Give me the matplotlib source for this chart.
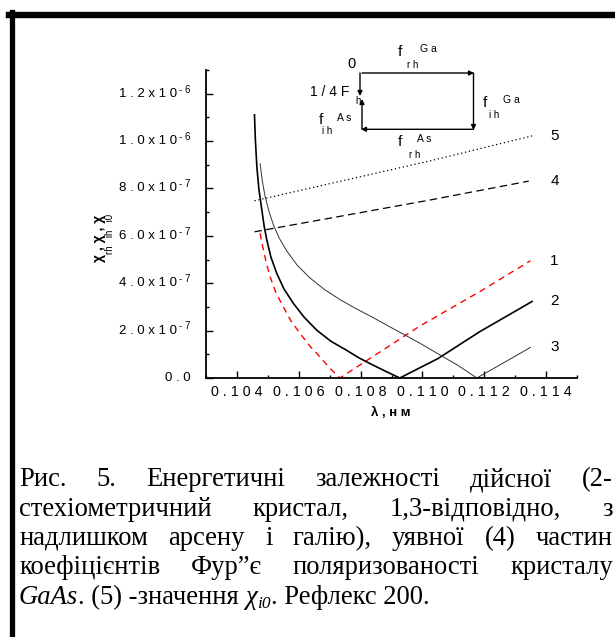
import matplotlib
matplotlib.use("Agg")
import matplotlib.pyplot as plt
from matplotlib.lines import Line2D
from matplotlib.patches import FancyArrowPatch

plt.rcParams['font.family'] = ['Liberation Sans', 'DejaVu Sans']

W, H = 615, 637

# довжина хвилі, нм, та значення χ (у одиницях 1e-7)
lam_1 = [0.104752, 0.104800, 0.104858, 0.104945, 0.105074, 0.105268, 0.105503,
         0.105752, 0.106042, 0.106365, 0.106687, 0.107010, 0.107332,
         0.109913, 0.111848, 0.113494]
chi_1 = [6.11, 5.74, 5.40, 4.89, 4.27, 3.58, 3.00,
         2.40, 1.88, 1.34, 0.89, 0.41, 0.0,
         2.19, 3.64, 4.95]

lam_2 = [0.104568, 0.104597, 0.104645, 0.104713, 0.104806, 0.104881, 0.104968,
         0.105100, 0.105290, 0.105526, 0.105826, 0.106171, 0.106581, 0.107042,
         0.107548, 0.107913, 0.108300, 0.108784, 0.109268,
         0.110503, 0.111848, 0.113548]
chi_2 = [11.11, 10.05, 8.92, 7.94, 7.09, 6.41, 5.82,
         5.10, 4.41, 3.75, 3.15, 2.57, 2.02, 1.55,
         1.17, 0.875, 0.61, 0.30, 0.0,
         0.82, 1.95, 3.23]

lam_3 = [0.104752, 0.104816, 0.104913, 0.105042, 0.105181, 0.105365, 0.105613,
         0.105945, 0.106365, 0.106816, 0.107332, 0.107848, 0.108406, 0.108945,
         0.109484, 0.110010, 0.110558, 0.111139, 0.111761,
         0.112623, 0.113494]
chi_3 = [9.04, 8.36, 7.65, 7.01, 6.46, 5.91, 5.36,
         4.77, 4.22, 3.75, 3.31, 2.93, 2.55, 2.16,
         1.78, 1.40, 0.98, 0.54, 0.0,
         0.64, 1.29]

lam_4 = [0.104568, 0.110235, 0.113439]
chi_4 = [6.17, 7.51, 8.31]

lam_5 = [0.104568, 0.110235, 0.113548]
chi_5 = [7.48, 9.16, 10.22]

curve_names = ['5', '4', '1', '2', '3']

xticks = [0.104, 0.106, 0.108, 0.110, 0.112, 0.114]
yticks_base = ['0 . 0', '2 . 0 x 1 0', '4 . 0 x 1 0', '6 . 0 x 1 0', '8 . 0 x 1 0',
               '1 . 0 x 1 0', '1 . 2 x 1 0']
yticks_exp = ['', '- 7', '- 7', '- 7', '- 7', '- 6', '- 6']

caption_lines = [
    ['Рис.', '5.', 'Енергетичні', 'залежності', 'дійсної', '(2-'],
    ['стехіометричний', 'кристал,', '1,3-відповідно,', 'з'],
    ['надлишком', 'арсену', 'і', 'галію),', 'уявної', '(4)', 'частин'],
    ['коефіцієнтів', 'Фур”є', 'поляризованості', 'кристалу'],
]


def px(x, y):
    return x / W, 1 - y / H


fig = plt.figure(figsize=(W / 100, H / 100), dpi=100)
ax = fig.add_axes([206 / W, 1 - 378 / H, 371 / W, 308 / H])

s = 1e-7
ax.plot(lam_5, [v * s for v in chi_5], color='black', lw=0.9, ls=(0, (1, 2.2)))
ax.plot(lam_4, [v * s for v in chi_4], color='black', lw=0.9, ls=(0, (6, 3.5)))
ax.plot(lam_1, [v * s for v in chi_1], color='red', lw=1.0, ls=(0, (4.5, 3.5)))
ax.plot(lam_2, [v * s for v in chi_2], color='black', lw=1.2)
ax.plot(lam_3, [v * s for v in chi_3], color='#333333', lw=0.7)

ax.set_xlim(0.103, 0.115)
ax.set_ylim(0, 1.3e-6)
ax.set_xticks(xticks)
ax.set_xticks([0.103 + 0.001 * i for i in range(13)], minor=True)
ax.set_xticklabels([' . '.join(['0', ' '.join(f'{t:.3f}'[2:])]) for t in xticks],
                   fontsize=10.3)
ax.set_yticks([i * 2e-7 for i in range(7)])
ax.set_yticks([i * 1e-7 for i in range(14)], minor=True)
ax.set_yticklabels([])
ax.tick_params(which='both', direction='in', width=1.0)
ax.tick_params(which='major', length=5)
ax.tick_params(which='minor', length=2.5)
ax.tick_params(axis='x', pad=5)
for side in ['top', 'right']:
    ax.spines[side].set_visible(False)
for side in ['left', 'bottom']:
    ax.spines[side].set_linewidth(1.3)

# підписи осі y з показником степеня
for i, (b, e) in enumerate(zip(yticks_base, yticks_exp)):
    v = i * 2e-7
    if e:
        ax.annotate(b, xy=(0, v), xycoords=('axes fraction', 'data'),
                    xytext=(-21, 0), textcoords='offset points',
                    ha='right', va='center', fontsize=9.5)
        ax.annotate(e, xy=(0, v), xycoords=('axes fraction', 'data'),
                    xytext=(-19.5, 3), textcoords='offset points',
                    ha='left', va='center', fontsize=7)
    else:
        ax.annotate(b, xy=(0, v), xycoords=('axes fraction', 'data'),
                    xytext=(-11, 0), textcoords='offset points',
                    ha='right', va='center', fontsize=9.5)

# номери кривих
ends = [chi_5[-1], chi_4[-1], chi_1[-1], chi_2[-1], chi_3[-1]]
for name, v in zip(curve_names, ends):
    ax.text(0.11427, v * s, name, ha='center', va='center', fontsize=11)

fig.text(*px(391, 413), 'λ , н м', ha='center', va='center',
         fontsize=9.5, fontweight='bold')
fig.text(*px(99, 238), 'χ , χ , χ', rotation=90, ha='center', va='center',
         fontsize=10, fontweight='bold')
fig.text(*px(110, 234), 'rh   ih   i0', rotation=90, ha='center', va='center',
         fontsize=7)

# векторна діаграма
arrows = [((362, 73), (474, 73)), ((473.5, 73), (473.5, 130)),
          ((473.5, 129.3), (361, 129.3)), ((362, 129.3), (362, 99)),
          ((360, 73), (360, 96))]
for a, b in arrows:
    fig.add_artist(FancyArrowPatch(px(*a), px(*b), transform=fig.transFigure,
                                   arrowstyle='-|>', mutation_scale=7,
                                   lw=1.0, color='black', shrinkA=0, shrinkB=0))

inset_txt = [
    (351.7, 64, '0', 10.5), (330, 91.5, '1 / 4 F', 10), (358, 101, 'h', 7),
    (400, 52, 'f', 11), (428, 48.5, 'G a', 7.5), (413, 65, 'r h', 7),
    (485, 103, 'f', 11), (511, 100, 'G a', 7.5), (494, 115, 'i h', 7),
    (321, 120, 'f', 11), (344, 118, 'A s', 7.5), (327, 131, 'i h', 7),
    (400, 142, 'f', 11), (424, 139, 'A s', 7.5), (415, 155, 'r h', 7),
]
for x, y, t, fs in inset_txt:
    fig.text(*px(x, y), t, ha='center', va='center', fontsize=fs)

# рамка сторінки
fig.add_artist(Line2D([9 / W, 1], [1 - 15 / H] * 2, color='black', lw=4.6,
                      transform=fig.transFigure))
fig.add_artist(Line2D([12 / W] * 2, [0, 1 - 12 / H], color='black', lw=3.8,
                      transform=fig.transFigure))

# підпис до рисунка, вирівняний за шириною
serif = ['Liberation Serif', 'DejaVu Serif']
cap_fs = 19.2
x_left, x_right = 19, 613
y0, dy = 486, 29.5
fig.canvas.draw()
r = fig.canvas.get_renderer()
for k, words in enumerate(caption_lines):
    y = y0 + k * dy
    objs = [fig.text(0, 1 - y / H, w, family=serif, fontsize=cap_fs, va='baseline')
            for w in words]
    widths = [o.get_window_extent(r).width for o in objs]
    gap = (x_right - x_left - sum(widths)) / (len(words) - 1)
    x = x_left
    for o, wd in zip(objs, widths):
        o.set_x(x / W)
        x += wd + gap

runs = [('GaAs', 'italic', cap_fs, 0), ('. (5) -значення ', 'normal', cap_fs, 0),
        ('χ', 'italic', cap_fs, 0), ('i0', 'italic', 12.5, 4),
        ('. Рефлекс 200.', 'normal', cap_fs, 0)]
x = x_left
y = y0 + 4 * dy
for t, st, fs, off in runs:
    o = fig.text(x / W, 1 - (y + off) / H, t, family=serif, style=st,
                 fontsize=fs, va='baseline')
    x += o.get_window_extent(r).width

fig.savefig('out.png', dpi=100)
